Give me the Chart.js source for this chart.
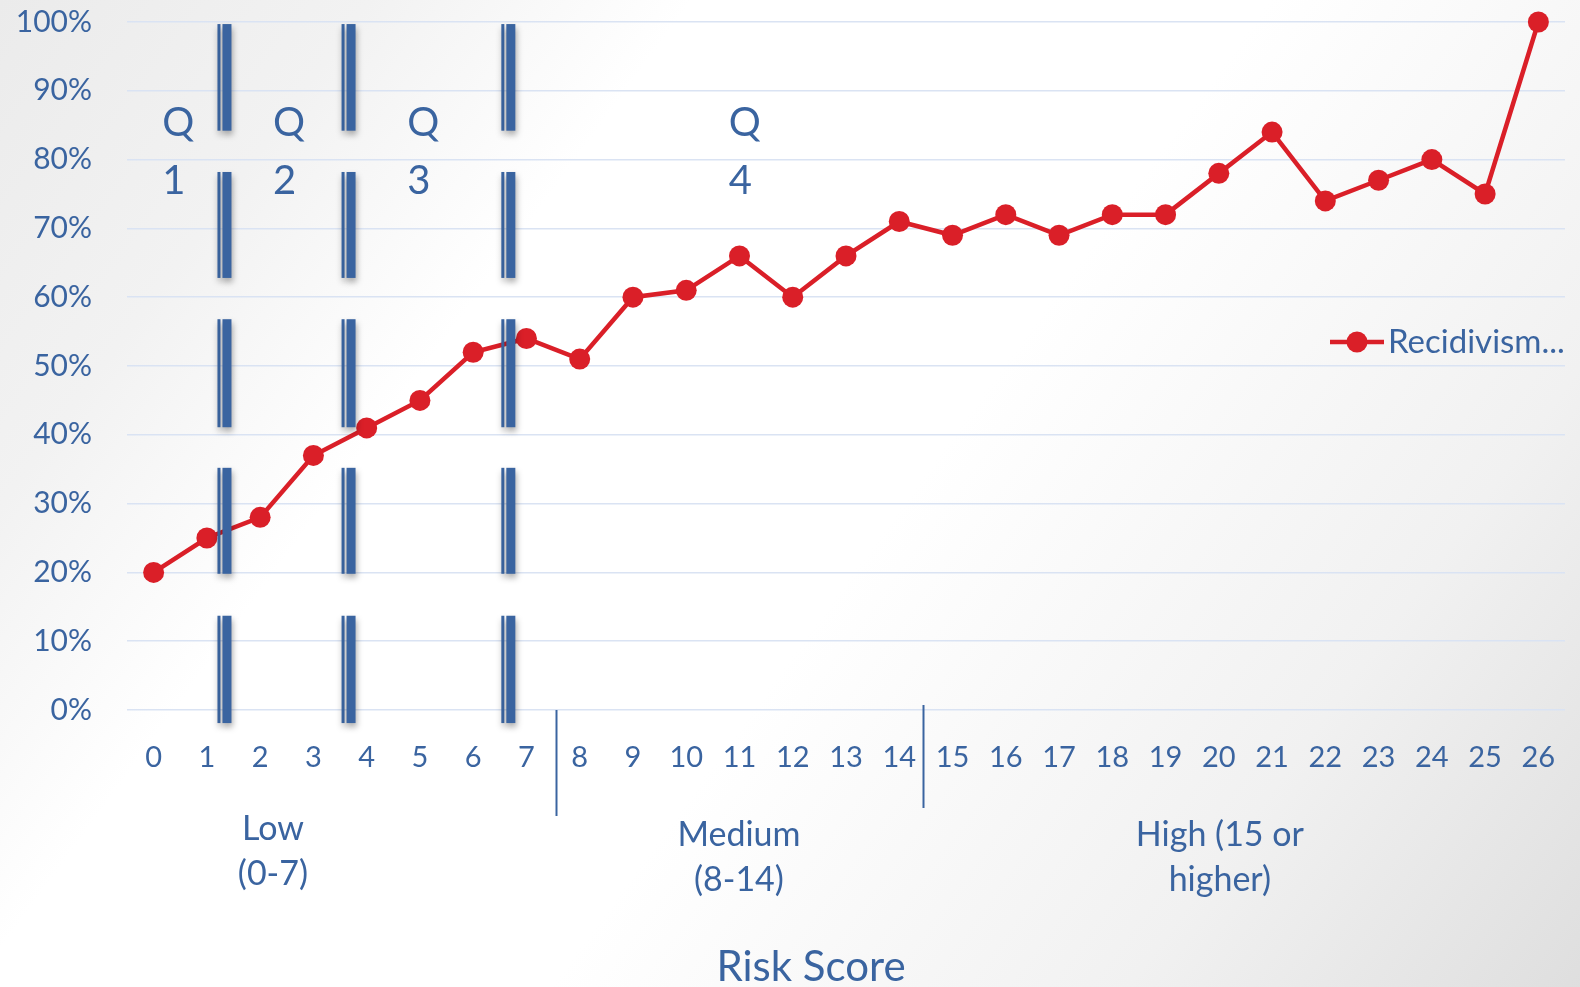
<!DOCTYPE html>
<html><head><meta charset="utf-8">
<script src="https://cdn.jsdelivr.net/npm/chart.js@4"></script>
<style>html,body{margin:0;padding:0;background:#fff;overflow:hidden}#wrap{width:1580px;height:987px;position:relative}</style>
</head><body><div id="wrap"><canvas id="c"></canvas></div>
<script>
// ---- data ----
const riskScores = ['0','1','2','3','4','5','6','7','8','9','10','11','12','13','14','15','16','17','18','19','20','21','22','23','24','25','26'];
const recidivismRate = [20,25,28,37,41,45,52,54,51,60,61,66,60,66,71,69,72,69,72,72,78,84,74,77,80,75,100];
const seriesLabel = 'Recidivism...';
const yMin = 0, yMax = 100, yStep = 10;
const quartileLabels = [['Q','1'],['Q','2'],['Q','3'],['Q','4']];
const quartileX = [0.16, 2.24, 4.76, 10.8];
const quartileY = [85.3, 76.9];
const dividerX = [1.33, 3.66, 6.66];
const dividerSegments = [[99.7,84.2],[78.2,62.8],[56.8,41.1],[35.2,19.8],[13.7,-1.9]];
const groupLabels = [['Low','(0-7)'],['Medium','(8-14)'],['High (15 or','higher)']];
const groupX = [2.24, 10.99, 20.02];
const groupSeparators = [7.55, 14.45];
const axisTitle = 'Risk Score';

const BLUE = '#3a64a0';
const RED = '#da1f28';
const FONT = 'Lato, "Open Sans", sans-serif';

const bgPlugin = {
  id: 'bg',
  beforeDraw(chart) {
    const {ctx, width, height} = chart;
    ctx.save();
    const g = ctx.createLinearGradient(0, 0, 1508, 1099);
    g.addColorStop(0, '#ebebeb');
    g.addColorStop(0.16, '#f2f2f2');
    g.addColorStop(0.3, '#ffffff');
    g.addColorStop(0.55, '#ffffff');
    g.addColorStop(0.8, '#f1f1f1');
    g.addColorStop(1, '#dedede');
    ctx.fillStyle = g;
    ctx.fillRect(0, 0, width, height);
    ctx.restore();
  }
};

const annoPlugin = {
  id: 'anno',
  afterDatasetsDraw(chart) {
    const {ctx, scales: {x, y}} = chart;
    ctx.save();
    // quartile labels
    ctx.fillStyle = BLUE;
    ctx.font = '40px ' + FONT;
    ctx.textAlign = 'left';
    ctx.textBaseline = 'middle';
    quartileLabels.forEach((lines, i) => {
      lines.forEach((t, j) => {
        ctx.fillText(t, x.getPixelForValue(quartileX[i]), y.getPixelForValue(quartileY[j]));
      });
    });
    // double divider bars
    dividerX.forEach(v => {
      const cx = x.getPixelForValue(v);
      dividerSegments.forEach(([a, b]) => {
        const y1 = y.getPixelForValue(a), y2 = y.getPixelForValue(b);
        ctx.save();
        ctx.shadowColor = 'rgba(0,0,0,0.35)';
        ctx.shadowBlur = 6;
        ctx.shadowOffsetX = 1;
        ctx.shadowOffsetY = 4;
        ctx.fillStyle = BLUE;
        ctx.fillRect(cx - 7, y1, 3, y2 - y1);
        ctx.fillRect(cx - 2, y1, 9, y2 - y1);
        ctx.restore();
      });
    });
    ctx.restore();
  },
  afterDraw(chart) {
    const {ctx, chartArea, scales: {x}} = chart;
    ctx.save();
    // group separators
    ctx.strokeStyle = BLUE;
    ctx.lineWidth = 2;
    const sepSpan = [[0, 106], [-5, 98]];
    groupSeparators.forEach((v, i) => {
      const px = Math.round(x.getPixelForValue(v)) + 0.5;
      ctx.beginPath();
      ctx.moveTo(px, chartArea.bottom + sepSpan[i][0]);
      ctx.lineTo(px, chartArea.bottom + sepSpan[i][1]);
      ctx.stroke();
    });
    // group labels
    ctx.fillStyle = BLUE;
    ctx.font = '34px ' + FONT;
    ctx.textAlign = 'center';
    ctx.textBaseline = 'middle';
    const groupOffset = [119, 125, 125];
    groupLabels.forEach((lines, i) => {
      lines.forEach((t, j) => {
        ctx.fillText(t, x.getPixelForValue(groupX[i]), chartArea.bottom + groupOffset[i] + j * 45);
      });
    });
    // axis title
    ctx.font = '42px ' + FONT;
    ctx.fillText(axisTitle, 811, 967);
    // legend
    const ds = chart.data.datasets[0];
    const ly = 342;
    ctx.strokeStyle = ds.borderColor;
    ctx.lineWidth = 4.5;
    ctx.beginPath();
    ctx.moveTo(1330, ly);
    ctx.lineTo(1384, ly);
    ctx.stroke();
    ctx.fillStyle = ds.pointBackgroundColor;
    ctx.beginPath();
    ctx.arc(1357, ly, 10.5, 0, Math.PI * 2);
    ctx.fill();
    ctx.fillStyle = BLUE;
    ctx.font = '33px ' + FONT;
    ctx.textAlign = 'left';
    ctx.fillText(ds.label, 1388, ly);
    ctx.restore();
  }
};

new Chart(document.getElementById('c'), {
  type: 'line',
  data: {
    labels: riskScores,
    datasets: [{
      label: seriesLabel,
      data: recidivismRate,
      borderColor: RED,
      backgroundColor: RED,
      pointBackgroundColor: RED,
      pointBorderColor: RED,
      pointBorderWidth: 0,
      pointRadius: 10.5,
      borderWidth: 4.5,
      tension: 0,
      fill: false,
      clip: false
    }]
  },
  options: {
    responsive: true,
    maintainAspectRatio: false,
    animation: false,
    layout: {padding: {top: 22, right: 15, left: 0, bottom: 0}},
    plugins: {legend: {display: false}, tooltip: {enabled: false}},
    scales: {
      x: {
        type: 'category',
        offset: true,
        grid: {display: false, drawTicks: false, tickLength: 0},
        border: {display: false},
        ticks: {font: {family: FONT, size: 29}, color: BLUE, padding: 30, autoSkip: false, maxRotation: 0},
        afterFit(s) { s.height = 277; s.paddingLeft = 0; s.paddingRight = 0; }
      },
      y: {
        min: yMin, max: yMax,
        ticks: {stepSize: yStep, callback: v => v + '%', font: {family: FONT, size: 30}, color: BLUE, padding: 35},
        grid: {color: '#dae3f3', lineWidth: 1.5, drawTicks: false, tickLength: 0},
        border: {display: false},
        afterFit(s) { s.width = 127; s.paddingTop = 0; s.paddingBottom = 0; }
      }
    }
  },
  plugins: [bgPlugin, annoPlugin]
});
</script>
</body></html>
